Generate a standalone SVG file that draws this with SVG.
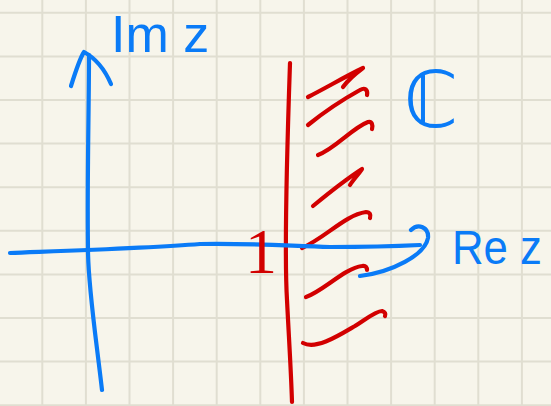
<svg xmlns="http://www.w3.org/2000/svg" width="551" height="406" viewBox="0 0 551 406">
<style>
.grid line{stroke:#e0ded1;stroke-width:2}
.blue{fill:none;stroke:#0a7bf7;stroke-width:4.2;stroke-linecap:round;stroke-linejoin:round}
.red{fill:none;stroke:#d20000;stroke-width:4.2;stroke-linecap:round;stroke-linejoin:round}
.bt{fill:#0a7bf7;font-family:"Liberation Sans",Arial,sans-serif}
.rt{fill:#d20000;font-family:"Liberation Serif","Times New Roman",serif}
</style>
<rect width="551" height="406" fill="#f7f5eb"/>
<g id="grid" class="grid">
<line x1="42.3" y1="0" x2="42.3" y2="406"/>
<line x1="85.9" y1="0" x2="85.9" y2="406"/>
<line x1="129.5" y1="0" x2="129.5" y2="406"/>
<line x1="173.1" y1="0" x2="173.1" y2="406"/>
<line x1="216.7" y1="0" x2="216.7" y2="406"/>
<line x1="260.3" y1="0" x2="260.3" y2="406"/>
<line x1="303.9" y1="0" x2="303.9" y2="406"/>
<line x1="347.5" y1="0" x2="347.5" y2="406"/>
<line x1="391.1" y1="0" x2="391.1" y2="406"/>
<line x1="434.7" y1="0" x2="434.7" y2="406"/>
<line x1="478.3" y1="0" x2="478.3" y2="406"/>
<line x1="521.9" y1="0" x2="521.9" y2="406"/>
<line x1="0" y1="12.8" x2="551" y2="12.8"/>
<line x1="0" y1="56.4" x2="551" y2="56.4"/>
<line x1="0" y1="100" x2="551" y2="100"/>
<line x1="0" y1="143.6" x2="551" y2="143.6"/>
<line x1="0" y1="187.2" x2="551" y2="187.2"/>
<line x1="0" y1="230.8" x2="551" y2="230.8"/>
<line x1="0" y1="274.4" x2="551" y2="274.4"/>
<line x1="0" y1="318" x2="551" y2="318"/>
<line x1="0" y1="361.6" x2="551" y2="361.6"/>
<line x1="0" y1="405.2" x2="551" y2="405.2"/>
</g>
<g id="region" class="red">
<path d="M290,63 C287,150 284,250 287,300 C289,340 291,370 292,402"/>
<path d="M308,97 C326,88 346,76 363,68 C355,74 348,80 343,87"/>
<path d="M367,95 C368,90 365,87 360,90 C342,100 324,112 308,125"/>
<path d="M318,155 C335,149 352,128 368,122 C372,121 373,125 372,129"/>
<path d="M313,206 C330,192 348,178 362,169 C358,175 353,180 350,185"/>
<path d="M302,248 C325,238 345,215 366,212 C370,212 371,215 370,218"/>
<path d="M306,297 C322,292 345,268 362,266 C366,265 367,268 367,270"/>
<path d="M303,343 C316,350 338,336 355,326 C366,319 376,311 382,311 C385,312 386,314 385,316"/>
</g>
<g id="axes" class="blue">
<path id="re-axis" d="M10,253 C60,251 150,248 200,244 C250,243 290,246 330,247 C370,247 400,246 420,245"/>
<path id="re-arrow" d="M411,230 C418,223 429,227 428,238 C425,255 392,272 360,276"/>
<path id="im-axis" d="M102,390 C95,330 88,285 88,250 C87,180 89,110 89,55"/>
<path id="im-arrow" d="M71,86 C76,70 80,58 84,52 C95,58 105,70 111,84"/>
</g>
<g id="labels">
<text id="im-label" class="bt" x="111" y="52" font-size="52">Im z</text>
<text id="re-label" class="bt" x="452" y="264" font-size="48" textLength="90" lengthAdjust="spacingAndGlyphs">Re z</text>
<text id="c-label" x="431" y="127" font-size="78" text-anchor="middle" fill="#0a7bf7" font-family="'DejaVu Sans',sans-serif">ℂ</text>
<text id="one-label" class="rt" x="261" y="273" font-size="64" text-anchor="middle">1</text>
</g>
</svg>
